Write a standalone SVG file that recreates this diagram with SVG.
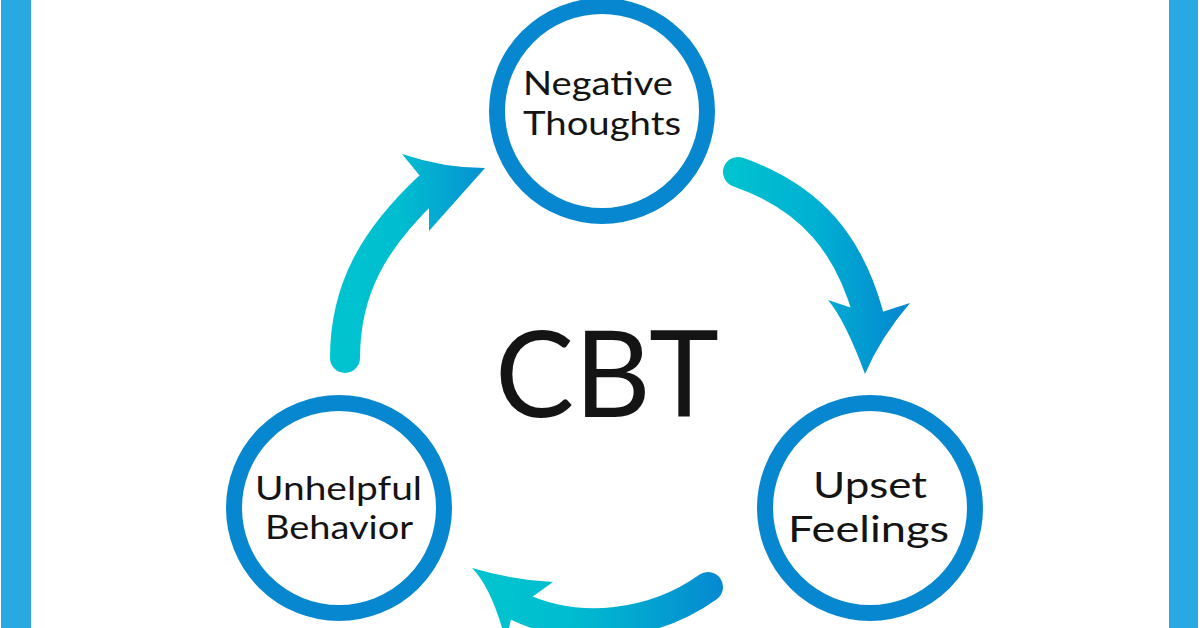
<svg xmlns="http://www.w3.org/2000/svg" width="1200" height="628" viewBox="0 0 1200 628">
  <style>
    .ring { fill: #ffffff; stroke: #0787CF; stroke-width: 16; }
    .lbl { font-family: Lato, "Open Sans", "Liberation Sans", sans-serif; font-weight: 400; fill: #141414; text-anchor: middle; }
    .shaft { fill: none; stroke-width: 30; }
  </style>
  <defs>
    <linearGradient id="g1" gradientUnits="userSpaceOnUse" x1="330" y1="0" x2="486" y2="0">
      <stop offset="0" stop-color="#00C4CF"/>
      <stop offset="0.45" stop-color="#00BDD0"/>
      <stop offset="1" stop-color="#0791D2"/>
    </linearGradient>
    <linearGradient id="g2" gradientUnits="userSpaceOnUse" x1="722" y1="0" x2="911" y2="0">
      <stop offset="0" stop-color="#00C4CF"/>
      <stop offset="0.5" stop-color="#00B0D2"/>
      <stop offset="1" stop-color="#0585D1"/>
    </linearGradient>
    <linearGradient id="g3" gradientUnits="userSpaceOnUse" x1="470" y1="0" x2="724" y2="0">
      <stop offset="0" stop-color="#00C5CF"/>
      <stop offset="0.4" stop-color="#00BCD0"/>
      <stop offset="1" stop-color="#0589D1"/>
    </linearGradient>
  </defs>

  <rect width="1200" height="628" fill="#ffffff"/>
  <g id="frame">
    <rect x="1" y="0" width="30" height="628" fill="#29A8E1"/>
    <rect x="1169" y="0" width="29" height="628" fill="#29A8E1"/>
  </g>

  <g id="connectors">
    <g id="arrow-behavior-thoughts">
      <path class="shaft" stroke="url(#g1)" stroke-linecap="round" d="M345,358 C345,289 374,239 428,188"/>
      <path fill="url(#g1)" d="M485,168 Q443.5,168 402,154 L420,176 L429,205 L429,231 Z"/>
    </g>
    <g id="arrow-thoughts-feelings">
      <path class="shaft" stroke="url(#g2)" stroke-linecap="round" d="M738,172 C813,198.4 849,246 868,313"/>
      <path fill="url(#g2)" d="M828,300 L852,308 L882,312 L910,303 Q880.5,337.5 865,374 Q845,320 828,300 Z"/>
    </g>
    <g id="arrow-feelings-behavior">
      <path class="shaft" stroke="url(#g3)" stroke-linecap="round" d="M708,587 C655.35,624.7 579.5,636 517,606"/>
      <path fill="url(#g3)" d="M472,568 Q512.5,580 553,582 L532,597 L511,619 L506,642 Q492,588 472,568 Z"/>
    </g>
  </g>

  <g id="node-thoughts">
    <circle class="ring" cx="602" cy="111" r="105"/>
    <text class="lbl" x="598" y="95" font-size="32" textLength="150" lengthAdjust="spacingAndGlyphs">Negative</text>
    <text class="lbl" x="602" y="135" font-size="33" textLength="158" lengthAdjust="spacingAndGlyphs">Thoughts</text>
  </g>

  <g id="node-behavior">
    <circle class="ring" cx="339" cy="508" r="105"/>
    <text class="lbl" x="338.5" y="500" font-size="33" textLength="167" lengthAdjust="spacingAndGlyphs">Unhelpful</text>
    <text class="lbl" x="339" y="539" font-size="32" textLength="148" lengthAdjust="spacingAndGlyphs">Behavior</text>
  </g>

  <g id="node-feelings">
    <circle class="ring" cx="870" cy="508" r="105"/>
    <text class="lbl" x="870" y="498" font-size="37" textLength="114" lengthAdjust="spacingAndGlyphs">Upset</text>
    <text class="lbl" x="868.5" y="542" font-size="36" textLength="161" lengthAdjust="spacingAndGlyphs">Feelings</text>
  </g>

  <g id="center-label">
    <text class="lbl" x="607" y="417" font-size="121" textLength="224" lengthAdjust="spacingAndGlyphs">CBT</text>
  </g>
</svg>
